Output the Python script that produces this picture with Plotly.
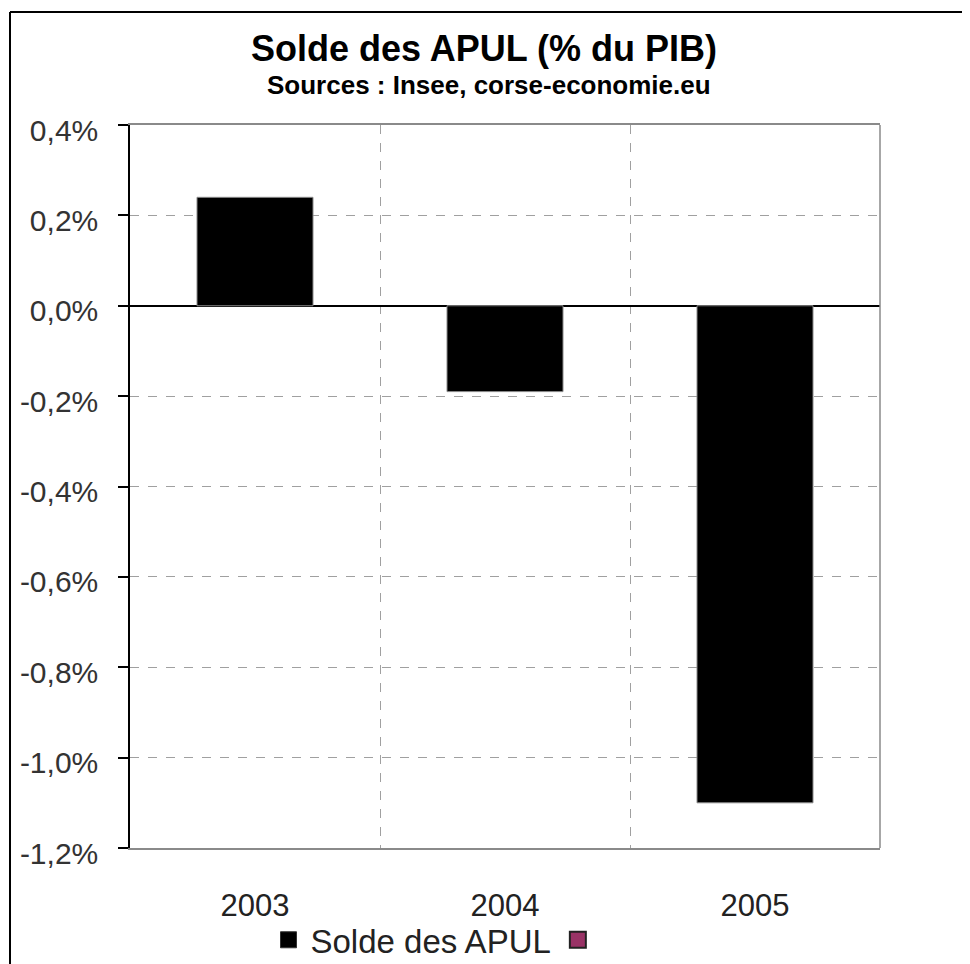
import plotly.graph_objects as go

categories = ["2003", "2004", "2005"]
solde_apul = [0.24, -0.19, -1.10]
y_tick_vals = [0.4, 0.2, 0.0, -0.2, -0.4, -0.6, -0.8, -1.0, -1.2]
y_tick_text = ["0,4%", "0,2%", "0,0%", "-0,2%", "-0,4%", "-0,6%", "-0,8%", "-1,0%", "-1,2%"]

FONT = "Liberation Sans, Arial, sans-serif"

fig = go.Figure()
fig.add_trace(go.Bar(
    x=categories, y=solde_apul, name="Solde des APUL",
    marker=dict(color="#000000", line=dict(color="#8a8a8a", width=1)),
    showlegend=False,
))
# legend entries
fig.add_trace(go.Scatter(
    x=[None], y=[None], mode="markers", name="Solde des APUL",
    marker=dict(symbol="square", size=22, color="#000000", line=dict(color="#333333", width=1)),
))
fig.add_trace(go.Scatter(
    x=[None], y=[None], mode="markers", name=" ",
    marker=dict(symbol="square", size=22, color="#993366", line=dict(color="#222222", width=2)),
))

fig.update_layout(
    width=962, height=956,
    margin=dict(l=122, r=90, t=117, b=116, autoexpand=False),
    paper_bgcolor="white", plot_bgcolor="white",
    font=dict(family=FONT, color="#222222"),
    bargap=0.536,
    showlegend=True,
    legend=dict(orientation="h", x=0.182, xanchor="left", y=-0.127, yanchor="middle",
                font=dict(size=33, color="#222222"), itemwidth=34,
                bgcolor="rgba(0,0,0,0)", tracegroupgap=0),
    xaxis=dict(
        type="category", tickson="boundaries",
        showgrid=True, gridcolor="#a0a0a0", griddash="dash", gridwidth=1,
        showline=True, linecolor="#8a8a8a", linewidth=1.5, mirror=True,
        ticks="", tickfont=dict(size=31, color="#222222"), ticklabelstandoff=29,
        range=[-0.5, 2.5],
    ),
    yaxis=dict(
        range=[-1.2, 0.4], tickvals=y_tick_vals, ticktext=y_tick_text,
        showgrid=True, gridcolor="#a0a0a0", griddash="dash", gridwidth=1,
        zeroline=True, zerolinecolor="#000000", zerolinewidth=2,
        showline=True, linecolor="#000000", linewidth=1.5,
        ticks="outside", ticklen=10, tickcolor="#000000", tickwidth=1.5,
        tickfont=dict(size=30, color="#333333"), ticklabelstandoff=14, ticklabelshift=5,
    ),
    annotations=[
        dict(text="<b>Solde des APUL (% du PIB)</b>", x=0.472, y=1.1065, xref="paper", yref="paper",
             xanchor="center", yanchor="middle", showarrow=False, font=dict(size=36, color="#000000")),
        dict(text="<b>Sources : Insee, corse-economie.eu</b>", x=0.4787, y=1.0553, xref="paper", yref="paper",
             xanchor="center", yanchor="middle", showarrow=False, font=dict(size=26, color="#000000")),
    ],
    shapes=[
        dict(type="line", xref="paper", yref="paper", x0=1, x1=1, y0=0, y1=1,
             line=dict(color="#8a8a8a", width=1.5)),
        dict(type="line", xref="paper", yref="paper", x0=-0.16, x1=1.12, y0=1.1563, y1=1.1563,
             line=dict(color="#000000", width=2)),
        dict(type="line", xref="paper", yref="paper", x0=-0.16, x1=-0.16, y0=1.1563, y1=-0.17,
             line=dict(color="#000000", width=2)),
    ],
)

fig.write_html("out.html")
